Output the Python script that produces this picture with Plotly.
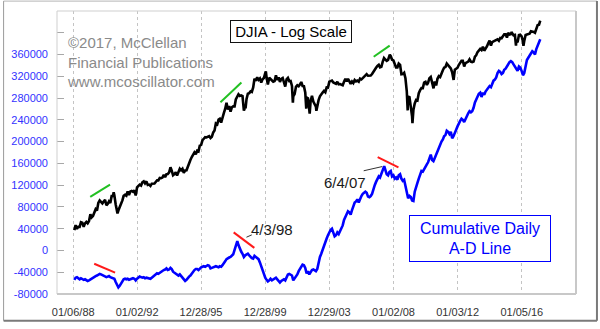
import pandas as pd
import plotly.graph_objects as go

# ---------------- data ----------------
# DJIA month-end closes, Jan 1988 .. Feb 2017
djia_monthly = [
    1958, 2072, 1988, 2032, 2031, 2142, 2129, 2032, 2113, 2149, 2115, 2169,
    2342, 2259, 2294, 2419, 2480, 2440, 2661, 2737, 2693, 2645, 2706, 2753,
    2591, 2627, 2707, 2657, 2877, 2881, 2905, 2615, 2453, 2442, 2560, 2634,
    2736, 2882, 2914, 2888, 3028, 2907, 3025, 3044, 3017, 3069, 2895, 3169,
    3224, 3267, 3236, 3359, 3397, 3319, 3394, 3257, 3272, 3226, 3306, 3301,
    3310, 3371, 3435, 3428, 3527, 3516, 3540, 3651, 3555, 3681, 3684, 3754,
    3978, 3832, 3636, 3682, 3758, 3625, 3765, 3913, 3843, 3908, 3739, 3834,
    3844, 4011, 4158, 4321, 4465, 4556, 4709, 4611, 4789, 4756, 5075, 5117,
    5395, 5486, 5588, 5569, 5643, 5655, 5529, 5616, 5882, 6029, 6522, 6448,
    6813, 6878, 6584, 7009, 7331, 7673, 8223, 7622, 7945, 7442, 7823, 7908,
    7907, 8546, 8800, 9063, 8900, 8952, 8883, 7539, 7843, 8592, 9117, 9181,
    9359, 9307, 9786, 10789, 10560, 10971, 10655, 10829, 10337, 10730, 10878, 11497,
    10940, 10128, 10922, 10734, 10522, 10448, 10522, 11215, 10651, 10971, 10415, 10788,
    10887, 10495, 9879, 10735, 10912, 10502, 10523, 9950, 8848, 9075, 9852, 10022,
    9920, 10106, 10404, 9946, 9925, 9243, 8737, 8664, 7592, 8397, 8896, 8342,
    8054, 7891, 7992, 8480, 8850, 8985, 9234, 9416, 9275, 9801, 9782, 10454,
    10488, 10584, 10358, 10226, 10188, 10435, 10140, 10174, 10080, 10027, 10428, 10783,
    10490, 10766, 10504, 10193, 10467, 10275, 10641, 10482, 10569, 10440, 10806, 10718,
    10865, 10993, 11109, 11367, 11168, 11150, 11186, 11381, 11679, 12081, 12222, 12463,
    12622, 12269, 12354, 13063, 13628, 13409, 13212, 13358, 13896, 13930, 13372, 13265,
    12650, 12266, 12263, 12820, 12638, 11350, 11378, 11544, 10851, 9325, 8829, 8776,
    8001, 7063, 7609, 8168, 8500, 8447, 9172, 9496, 9712, 9713, 10345, 10428,
    10067, 10325, 10857, 11009, 10137, 9774, 10466, 10015, 10788, 11118, 11006, 11578,
    11892, 12226, 12320, 12811, 12570, 12414, 12143, 11614, 10913, 11955, 12046, 12218,
    12633, 12952, 13212, 13214, 12393, 12880, 13009, 13091, 13437, 13096, 13026, 13104,
    13861, 14054, 14579, 14840, 15116, 14910, 15500, 14810, 15130, 15546, 16086, 16577,
    15699, 16322, 16458, 16581, 16717, 16827, 16563, 17098, 17043, 17391, 17828, 17823,
    17165, 18133, 17776, 17841, 18011, 17620, 17690, 16528, 16285, 17664, 17720, 17425,
    16466, 16517, 17685, 17774, 17787, 17930, 18432, 18401, 18308, 18142, 19124, 19763,
    19864, 20812,
]

# intra-month DJIA turning points
djia_turn_dates = [
    "1990-07-16", "1990-10-11", "1998-10-08", "2000-01-14", "2001-09-21",
    "2002-07-23", "2002-10-09", "2003-03-11", "2007-10-09", "2008-11-20",
    "2009-03-09", "2010-07-02", "2011-10-03", "2015-05-19", "2015-08-25",
    "2016-02-11",
]
djia_turn_values = [
    2999, 2365, 7731, 11723, 8236,
    7702, 7286, 7524, 14165, 7552,
    6547, 9686, 10655, 18312, 15666,
    15660,
]

# Cumulative daily advance-decline line, month-end, in thousands
ad_line_k = [
    -54, -50, -49, -52, -53, -51, -52, -54, -53, -55, -56, -55,
    -53, -52, -50, -48, -47, -46, -44, -43, -44, -45, -47, -48,
    -49, -48, -47, -49, -50, -51, -52, -58, -63, -68, -65, -60,
    -57, -53, -52, -53, -52, -54, -53, -52, -51, -52, -55, -52,
    -49, -48, -49, -50, -49, -51, -50, -51, -51, -52, -50, -48,
    -46, -44, -42, -43, -41, -40, -38, -36, -35, -33, -36, -35,
    -32, -34, -39, -41, -43, -45, -46, -44, -47, -50, -55, -56,
    -54, -50, -48, -46, -42, -39, -36, -34, -34, -36, -33, -31,
    -30, -29, -30, -29, -27, -28, -33, -32, -31, -30, -29, -30,
    -31, -29, -30, -27, -22, -20, -16, -14, -13, -12, -10, -7,
    1, 7, 14, 10, 3, -2, -6, -12, -9, -8, -6, -9,
    -12, -14, -15, -10, -12, -14, -16, -22, -30, -38, -45, -50,
    -54, -57, -55, -52, -55, -53, -52, -50, -53, -56, -59, -56,
    -54, -53, -55, -49, -44, -43, -45, -46, -55, -52, -48, -44,
    -38, -34, -28, -26, -27, -32, -42, -38, -44, -40, -36, -35,
    -36, -38, -34, -22, -12, -6, 2, 8, 14, 22, 28, 35,
    38, 40, 34, 26, 28, 33, 30, 35, 42, 46, 56, 62,
    65, 72, 70, 66, 74, 80, 88, 90, 94, 88, 96, 100,
    104, 106, 108, 106, 99, 98, 100, 104, 114, 120, 126, 130,
    136, 134, 140, 146, 152, 148, 140, 138, 144, 146, 136, 138,
    132, 134, 130, 138, 140, 132, 128, 130, 120, 104, 96, 100,
    98, 92, 91, 108, 118, 124, 132, 140, 146, 145, 150, 156,
    158, 162, 170, 176, 166, 164, 170, 176, 184, 190, 194, 200,
    204, 210, 212, 220, 218, 214, 218, 206, 210, 218, 222, 228,
    234, 238, 242, 240, 236, 242, 248, 252, 256, 254, 256, 262,
    272, 278, 284, 288, 290, 282, 290, 286, 292, 296, 298, 302,
    300, 306, 312, 314, 318, 326, 330, 328, 324, 326, 332, 334,
    338, 344, 346, 348, 346, 342, 338, 332, 330, 338, 336, 330,
    322, 326, 342, 350, 354, 358, 364, 366, 364, 360, 370, 376,
    382, 388,
]

# labelled A-D line peaks
ad_peak_dates = ["1998-04-03", "2007-06-04"]
ad_peak_labels = ["4/3/98", "6/4/07"]
ad_peak_k = [17, 155]

# divergence segments: DJIA (green) and A-D line (red)
djia_div_dates = [("1989-01-27", "1990-04-24"), ("1997-03-15", "1998-07-06"),
                  ("2006-10-07", "2007-10-07")]
djia_div_values = [(2849, 3268), (8279, 10350), (13827, 15690)]
ad_div_dates = [("1989-04-28", "1990-08-18"), ("1998-01-10", "1999-04-26"),
                ("2007-01-06", "2008-04-23")]
ad_div_k = [(-24.4, -40.7), (33.3, 4.7), (171.4, 152.7)]

x_tick_dates = ["1988-01-06", "1992-01-02", "1995-12-28", "1999-12-28",
                "2003-12-29", "2008-01-02", "2012-01-03", "2016-01-05"]
x_tick_text = ["01/06/88", "01/02/92", "12/28/95", "12/28/99",
               "12/29/03", "01/02/08", "01/03/12", "01/05/16"]
y_tick_vals = [-80000, -40000, 0, 40000, 80000, 120000, 160000, 200000,
               240000, 280000, 320000, 360000, 400000]
y_tick_text = ["-80000", "-40000", "0", "40000", "80000", "120000", "160000",
               "200000", "240000", "280000", "320000", "360000", ""]

# ---------------- series assembly ----------------
month_ends = pd.date_range("1988-01-31", periods=len(djia_monthly), freq="ME")
djia = pd.concat([
    pd.Series(djia_monthly, index=month_ends),
    pd.Series(djia_turn_values, index=pd.to_datetime(djia_turn_dates)),
]).sort_index()

ad = pd.concat([
    pd.Series(ad_line_k, index=month_ends[:len(ad_line_k)]),
    pd.Series(ad_peak_k, index=pd.to_datetime(ad_peak_dates)),
]).sort_index() * 1000

# ---------------- layout geometry ----------------
W, H = 600, 329
ML, MR, MT, MB = 56, 24, 11, 32
PW, PH = W - ML - MR, H - MT - MB


def fx(px):
    return (px - ML) / PW


def fy(py):
    return (H - MB - py) / PH


FONT = "Arial, Liberation Sans, sans-serif"

fig = go.Figure()

fig.add_trace(go.Scatter(
    x=djia.index, y=djia.values, yaxis="y2", mode="lines",
    line=dict(color="#000000", width=2.6), hoverinfo="skip",
))
fig.add_trace(go.Scatter(
    x=ad.index, y=ad.values, mode="lines",
    line=dict(color="#0000ff", width=2.6), hoverinfo="skip",
))

for (d0, d1), (v0, v1) in zip(djia_div_dates, djia_div_values):
    fig.add_trace(go.Scatter(
        x=[d0, d1], y=[v0, v1], yaxis="y2", mode="lines",
        line=dict(color="#22c022", width=2), hoverinfo="skip",
    ))
for (d0, d1), (v0, v1) in zip(ad_div_dates, ad_div_k):
    fig.add_trace(go.Scatter(
        x=[d0, d1], y=[v0 * 1000, v1 * 1000], mode="lines",
        line=dict(color="#ff1a1a", width=2), hoverinfo="skip",
    ))

annotations = [
    dict(xref="paper", yref="paper", x=fx(64), y=fy(32), xanchor="left",
         yanchor="top", align="left", showarrow=False,
         text="©2017, McClellan<br>Financial Publications<br>www.mcoscillator.com",
         font=dict(family=FONT, size=15, color="#8a8a8a")),
    dict(xref="paper", yref="paper", x=fx(290.5), y=fy(32),
         xanchor="center", yanchor="middle", showarrow=False,
         text="DJIA - Log Scale", width=118, height=19, borderpad=1,
         bordercolor="#111111", borderwidth=1, bgcolor="#ffffff",
         font=dict(family=FONT, size=15, color="#000000")),
    dict(xref="paper", yref="paper", x=fx(479.5), y=fy(241.3),
         xanchor="center", yanchor="middle", showarrow=False,
         text="Cumulative Daily<br>A-D Line", width=138, height=43, borderpad=1,
         bordercolor="#0000ff", borderwidth=1, bgcolor="#ffffff",
         font=dict(family=FONT, size=16, color="#0000ff")),
]

# peak labels with short pointer lines
label_shift = [(35, 12), (-39, -16)]
pointer = [(16, -7, 10), (-22, 5, 2)]
for d, v, lab, (sx, sy), (ax, ay, so) in zip(ad_peak_dates, ad_peak_k,
                                             ad_peak_labels, label_shift, pointer):
    annotations.append(dict(x=d, y=v * 1000, xref="x", yref="y", text=lab,
                            showarrow=False, xshift=sx, yshift=sy,
                            xanchor="center", yanchor="middle",
                            font=dict(family=FONT, size=15, color="#1a1a1a")))
    annotations.append(dict(x=d, y=v * 1000, xref="x", yref="y", text="",
                            showarrow=True, arrowhead=0, arrowwidth=1,
                            arrowcolor="#333333", ax=ax, ay=ay, standoff=so))

shapes = [
    # plot frame
    dict(type="rect", xref="paper", yref="paper", x0=0, x1=1, y0=0, y1=1,
         line=dict(color="#cfcfcf", width=1)),
    dict(type="line", xref="paper", yref="paper", x0=0, x1=1, y0=0, y1=0,
         line=dict(color="#c8c8c8", width=2)),
    dict(type="line", xref="paper", yref="paper", x0=1, x1=1, y0=0, y1=1,
         line=dict(color="#c8c8c8", width=2)),
    # outer border
    dict(type="line", xref="paper", yref="paper", x0=fx(2.5), x1=fx(597),
         y0=fy(1), y1=fy(1), line=dict(color="#b4b4b4", width=1)),
    dict(type="line", xref="paper", yref="paper", x0=fx(2.5), x1=fx(2.5),
         y0=fy(1), y1=fy(324), line=dict(color="#9a9a9a", width=1)),
    dict(type="line", xref="paper", yref="paper", x0=fx(2.5), x1=fx(597),
         y0=fy(324), y1=fy(324), line=dict(color="#7a7a7a", width=2)),
    dict(type="line", xref="paper", yref="paper", x0=fx(597), x1=fx(597),
         y0=fy(1), y1=fy(324), line=dict(color="#7a7a7a", width=2)),
]

fig.update_layout(
    width=W, height=H,
    margin=dict(l=ML, r=MR, t=MT, b=MB),
    paper_bgcolor="#ffffff", plot_bgcolor="#ffffff",
    showlegend=False,
    font=dict(family=FONT),
    xaxis=dict(
        type="date", range=["1987-01-01", "2019-05-24"],
        tickvals=x_tick_dates, ticktext=x_tick_text,
        showgrid=True, gridcolor="#c4c4c4", griddash="dot", gridwidth=1,
        ticks="", showline=False, zeroline=False,
        tickfont=dict(family=FONT, size=11, color="#333333"),
        ticklabelstandoff=10,
    ),
    yaxis=dict(
        range=[-80000, 440000], tickvals=y_tick_vals, ticktext=y_tick_text,
        showgrid=False, zeroline=False, showline=False,
        ticks="inside", ticklen=7, tickcolor="#a8a8a8", tickwidth=1,
        tickfont=dict(family=FONT, size=11, color="#3333ff"),
        ticklabelstandoff=8,
    ),
    yaxis2=dict(
        type="log", range=[2.979, 4.365], overlaying="y", side="right",
        visible=False, showgrid=False,
    ),
    annotations=annotations,
    shapes=shapes,
)

fig.write_html("out.html")
